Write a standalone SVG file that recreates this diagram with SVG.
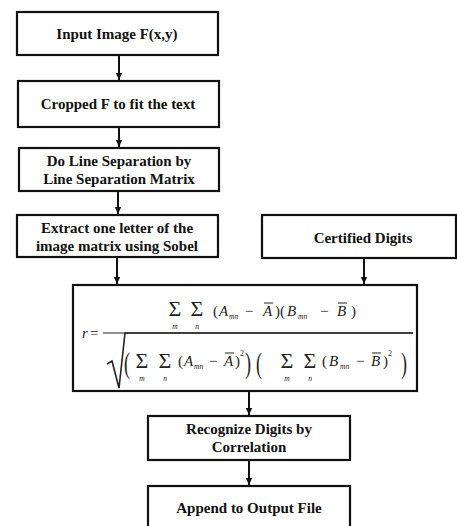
<svg xmlns="http://www.w3.org/2000/svg" width="457" height="526" viewBox="0 0 457 526">
<style>
.box{fill:#fff;stroke:#111;stroke-width:2.2}
.lbl{font-family:"Liberation Serif","Times New Roman",serif;font-weight:bold;font-size:15px;fill:#111;text-anchor:middle}
.conn{stroke:#111;stroke-width:2;fill:none}
.m{font-family:"Liberation Serif","Times New Roman",serif;fill:#222;font-size:15px}
.mi{font-style:italic}
.sg{font-size:22px;text-anchor:middle}
.sb{font-size:7.5px;font-style:italic;text-anchor:middle}
.ss{font-size:7.5px;font-style:italic}
.sp{font-size:8px}
.bp{font-size:30px}
.bar{stroke:#222;stroke-width:1}
</style>
<defs>
<marker id="ah" markerUnits="userSpaceOnUse" markerWidth="8" markerHeight="8" refX="7" refY="4" orient="auto">
<path d="M0,0.8 L7,4 L0,7.2 z" fill="#111"/>
</marker>
</defs>
<rect width="457" height="526" fill="#fff"/>
<g id="connectors">
<line class="conn" x1="119" y1="55" x2="119" y2="80" marker-end="url(#ah)"/>
<line class="conn" x1="119" y1="127" x2="119" y2="147" marker-end="url(#ah)"/>
<line class="conn" x1="118" y1="191" x2="118" y2="214" marker-end="url(#ah)"/>
<line class="conn" x1="117" y1="257" x2="117" y2="284" marker-end="url(#ah)"/>
<line class="conn" x1="364" y1="258" x2="364" y2="284" marker-end="url(#ah)"/>
<line class="conn" x1="249" y1="391" x2="249" y2="415" marker-end="url(#ah)"/>
<line class="conn" x1="249" y1="460" x2="249" y2="485" marker-end="url(#ah)"/>
</g>
<g id="n1"><rect class="box" x="17" y="12" width="201" height="43"/><text class="lbl" x="117" y="39">Input Image F(x,y)</text></g>
<g id="n2"><rect class="box" x="18" y="81" width="201" height="46"/><text class="lbl" x="118" y="109">Cropped F to fit the text</text></g>
<g id="n3"><rect class="box" x="19" y="148" width="200" height="43"/><text class="lbl" x="119" y="166">Do Line Separation by</text><text class="lbl" x="119" y="184">Line Separation Matrix</text></g>
<g id="n4"><rect class="box" x="17" y="215" width="201" height="42"/><text class="lbl" x="117" y="233">Extract one letter of the</text><text class="lbl" x="117" y="251">image matrix using Sobel</text></g>
<g id="n5"><rect class="box" x="262" y="215" width="194" height="43"/><text class="lbl" x="363" y="243">Certified Digits</text></g>
<g id="n6">
<rect class="box" x="73" y="285" width="344" height="106"/>
<text class="m mi" x="82" y="338">r</text><text class="m" x="90" y="338">=</text>
<line x1="103" y1="333" x2="413" y2="333" stroke="#222" stroke-width="1.2"/>
<path d="M107,364 L112,361 L119,388 L125,333 L413,333" fill="none" stroke="#222" stroke-width="1.6"/>
<!-- numerator -->
<text class="m sg" x="175" y="316">Σ</text><text class="m sb" x="175" y="329">m</text>
<text class="m sg" x="197" y="316">Σ</text><text class="m sb" x="197" y="329">n</text>
<text class="m" x="213" y="316">(</text>
<text class="m mi" x="219" y="316">A</text><text class="m ss" x="229" y="319">mn</text>
<text class="m" x="245" y="316">−</text>
<text class="m mi" x="263" y="316">A</text><line class="bar" x1="264" y1="303" x2="273" y2="303"/>
<text class="m" x="275" y="316">)(</text>
<text class="m mi" x="287" y="316">B</text><text class="m ss" x="298" y="319">mn</text>
<text class="m" x="320" y="316">−</text>
<text class="m mi" x="337" y="316">B</text><line class="bar" x1="338" y1="303" x2="347" y2="303"/>
<text class="m" x="351" y="316">)</text>
<!-- denominator -->
<text class="m bp" x="124" y="373" transform="translate(124 373) scale(0.6 1) translate(-124 -373)">(</text>
<text class="m sg" x="142" y="368">Σ</text><text class="m sb" x="142" y="381">m</text>
<text class="m sg" x="165" y="368">Σ</text><text class="m sb" x="165" y="381">n</text>
<text class="m" x="178" y="366">(</text>
<text class="m mi" x="184" y="366">A</text><text class="m ss" x="194" y="369">mn</text>
<text class="m" x="209" y="366">−</text>
<text class="m mi" x="224" y="366">A</text><line class="bar" x1="225" y1="353" x2="234" y2="353"/>
<text class="m" x="235" y="366">)</text>
<text class="m sp" x="240" y="356">2</text>
<text class="m bp" x="245" y="373" transform="translate(245 373) scale(0.6 1) translate(-245 -373)">)</text>
<text class="m bp" x="256" y="373" transform="translate(256 373) scale(0.6 1) translate(-256 -373)">(</text>
<text class="m sg" x="287" y="368">Σ</text><text class="m sb" x="287" y="381">m</text>
<text class="m sg" x="310" y="368">Σ</text><text class="m sb" x="310" y="381">n</text>
<text class="m" x="322" y="366">(</text>
<text class="m mi" x="329" y="366">B</text><text class="m ss" x="340" y="369">mn</text>
<text class="m" x="356" y="366">−</text>
<text class="m mi" x="371" y="366">B</text><line class="bar" x1="372" y1="353" x2="381" y2="353"/>
<text class="m" x="383" y="366">)</text>
<text class="m sp" x="388" y="356">2</text>
<text class="m bp" x="401" y="373" transform="translate(401 373) scale(0.6 1) translate(-401 -373)">)</text>
</g>
<g id="n7"><rect class="box" x="148" y="416" width="202" height="44"/><text class="lbl" x="249" y="434">Recognize Digits by</text><text class="lbl" x="249" y="452">Correlation</text></g>
<g id="n8"><rect class="box" x="148" y="486" width="202" height="44"/><text class="lbl" x="249" y="513">Append to Output File</text></g>
</svg>
